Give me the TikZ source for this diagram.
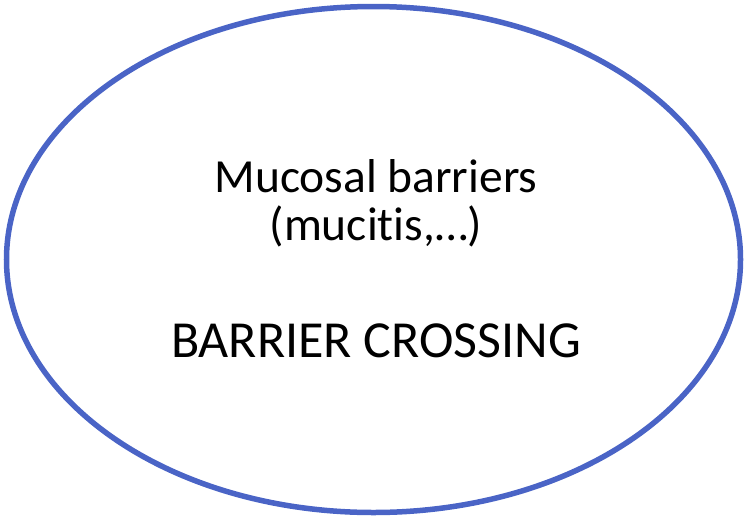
\documentclass[tikz,border=0pt]{standalone}
\usepackage{fontspec}
\setmainfont{Carlito}[Ligatures={NoCommon}]
\usetikzlibrary{shapes.geometric}
\definecolor{ringblue}{HTML}{4A64C6}
\tikzset{
  caption/.style={font=\fontsize{47.5}{56}\selectfont, text=black, align=center, inner sep=0pt},
  bigcaption/.style={caption, font=\fontsize{52}{62}\selectfont}
}
\begin{document}
\begin{tikzpicture}[x=1pt,y=-1pt]
  \useasboundingbox (0,0) rectangle (744,520);
  % outer ellipse
  \draw[draw=ringblue, line width=5.5pt] (373.5,259.5) ellipse [x radius=367, y radius=253];
  \node[caption, anchor=base] (title) at (376,192) {Mucosal barriers};
  \node[caption, anchor=base] (sub) at (376,240) {(mucitis,\dots)};
  \node[bigcaption, anchor=base] (cross) at (376,357) {BARRIER CROSSING};
\end{tikzpicture}
\end{document}
